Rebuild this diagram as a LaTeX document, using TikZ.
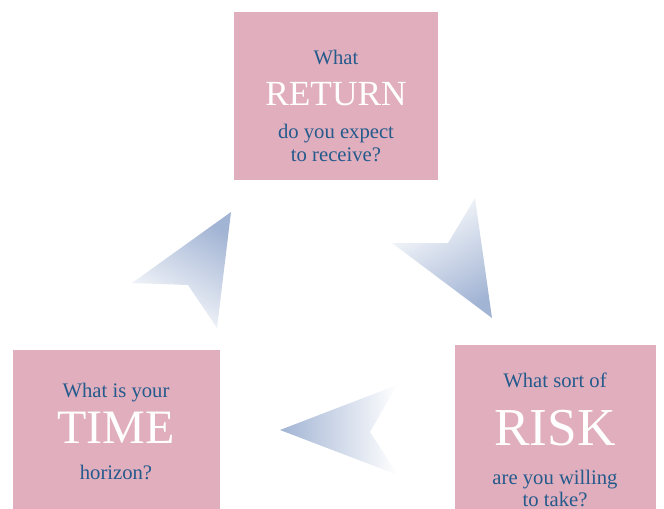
\documentclass[tikz,border=0pt]{standalone}
\usepackage{tikz}
\usepackage{fontspec}
\setmainfont{Liberation Serif}
\definecolor{boxpink}{HTML}{E0AEBD}
\definecolor{askblue}{HTML}{245A8C}
\definecolor{tipblue}{HTML}{A2B4D4}

\begin{document}
\begin{tikzpicture}[x=0.75pt, y=-0.75pt,
		ask/.style={color=askblue, anchor=base, font=\fontsize{15.5}{18}\selectfont},
		big/.style={color=white, anchor=base},
		pointer/.style={top color=tipblue, bottom color=white}]
			%%%%% START %%%%%
			\useasboundingbox (0, 0) rectangle (664, 508);
			\clip (0, 0) rectangle (664, 508);
			
			% return box (top)
			\fill[boxpink] (234, 12) rectangle (438, 180);
			\node[ask] (returnq) at (336, 64) {What};
			\node[big, font=\fontsize{26.5}{30}\selectfont] (return) at (336, 105) {RETURN};
			\node[ask] (returnb) at (336, 138) {do you expect};
			\node[ask] (returnc) at (336, 161) {to receive?};
			
			% risk box (right)
			\fill[boxpink] (455, 345) rectangle (656, 520);
			\node[ask] (riskq) at (555, 387) {What sort of};
			\node[big, font=\fontsize{40}{44}\selectfont] (risk) at (555, 445) {RISK};
			\node[ask] (riskb) at (555, 484) {are you willing};
			\node[ask] (riskc) at (555, 506) {to take?};
			
			% time box (left)
			\fill[boxpink] (13, 350) rectangle (220, 520);
			\node[ask] (timeq) at (116, 397) {What is your};
			\node[big, font=\fontsize{36}{40}\selectfont] (time) at (116, 443) {TIME};
			\node[ask] (timeb) at (116, 479) {horizon?};
			
			% the three pointers
			\shade[pointer, shading angle=-30] (231, 212) -- (132, 283) -- (188, 285) -- (217, 328) -- cycle;
			\shade[pointer, shading angle=-150] (492, 318) -- (475, 198) -- (448, 243) -- (392, 243) -- cycle;
			\shade[pointer, shading angle=90] (280, 430) -- (397, 385) -- (370, 432) -- (398, 475) -- cycle;
			
			%%%%% END %%%%%
		\end{tikzpicture}
\end{document}
